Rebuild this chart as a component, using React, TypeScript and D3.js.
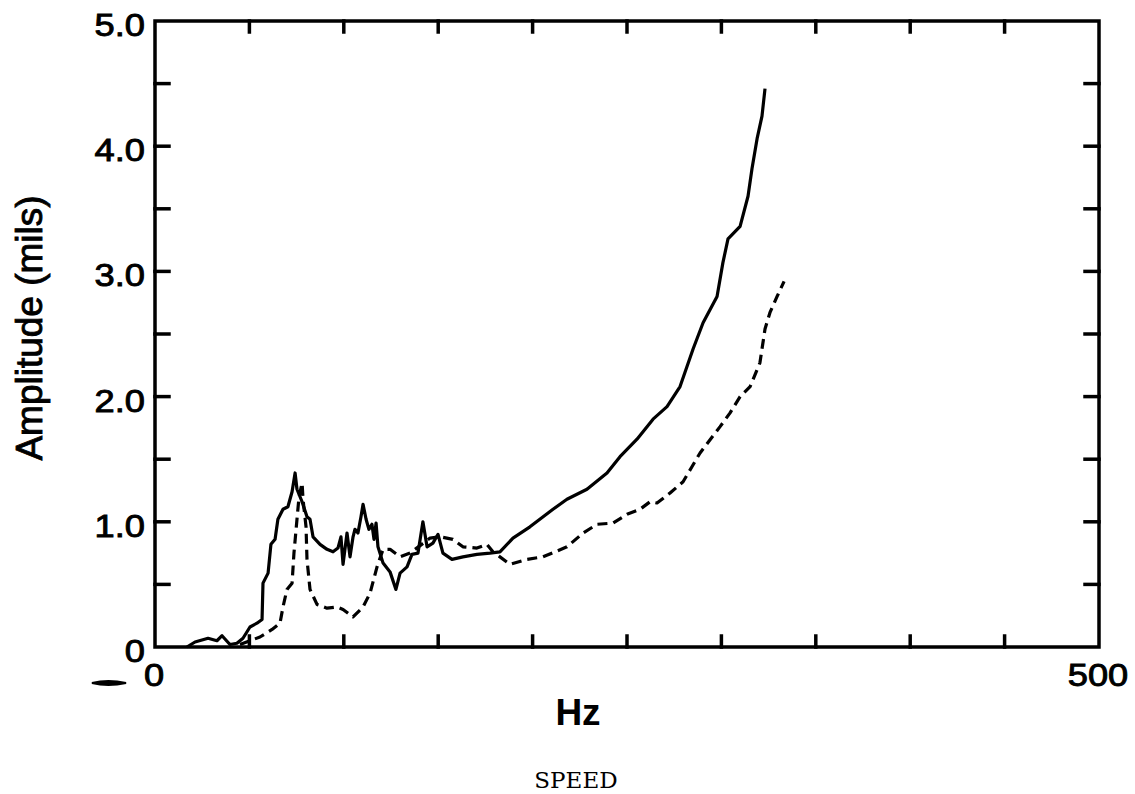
import React from "react";
import * as d3 from "d3";

const solidHz = [16.9,21.2,28.1,32.8,35.5,39.7,43.4,46.6,50.3,54.0,56.7,57.2,59.9,61.4,63.6,65.1,67.8,70.4,72.6,74.2,75.2,77.9,80.5,82.1,83.7,87.4,91.1,94.3,96.9,98.5,99.6,101.7,103.3,104.9,105.9,107.5,109.1,110.2,111.8,113.3,114.9,116.0,117.1,118.1,120.8,124.5,127.6,129.8,133.5,136.1,139.3,141.9,144.1,147.2,149.9,152.5,157.3,163.1,170.5,177.4,182.7,189.6,198.6,210.8,218.2,228.8,239.4,246.3,255.3,263.8,271.2,278.1,285.0,290.3,297.7,300.8,303.5,309.9,314.1,316.2,318.9,321.5,323.1];
const solidAmp = [0,0.04,0.07,0.05,0.09,0.02,0.03,0.07,0.16,0.19,0.22,0.51,0.59,0.82,0.86,1.02,1.10,1.12,1.24,1.39,1.26,1.16,1.04,1.02,0.88,0.82,0.78,0.76,0.79,0.88,0.66,0.91,0.72,0.88,0.94,0.91,1.04,1.14,1.02,0.94,0.98,0.86,0.99,0.80,0.67,0.60,0.46,0.59,0.64,0.74,0.75,1.00,0.80,0.83,0.90,0.75,0.70,0.72,0.74,0.75,0.76,0.87,0.96,1.10,1.18,1.26,1.39,1.52,1.66,1.82,1.92,2.08,2.38,2.59,2.80,3.07,3.26,3.36,3.60,3.82,4.06,4.24,4.46];

const dashHz = [45.0,55.6,62.0,66.2,67.8,69.9,72.6,73.6,75.2,76.3,77.9,78.4,80.0,80.5,82.1,85.8,91.1,96.4,99.6,104.9,110.2,113.9,117.6,120.8,124.5,129.8,135.1,145.7,151.0,157.8,163.1,170.5,175.8,179.0,182.7,188.0,197.0,205.5,218.2,226.7,234.1,242.6,250.0,256.9,262.2,265.9,272.8,279.7,284.4,288.7,299.3,304.6,309.9,315.2,320.4,323.1,325.7,329.5,333.2];
const dashAmp = [0.02,0.08,0.14,0.19,0.32,0.46,0.51,0.75,1.02,1.20,1.31,1.18,0.96,0.70,0.46,0.34,0.31,0.32,0.30,0.24,0.32,0.43,0.64,0.78,0.78,0.72,0.75,0.87,0.88,0.86,0.80,0.79,0.82,0.76,0.72,0.66,0.70,0.72,0.80,0.91,0.98,0.99,1.06,1.10,1.16,1.15,1.23,1.32,1.44,1.55,1.76,1.87,2.00,2.08,2.27,2.54,2.67,2.80,2.92];

const yTickLabels = ["0", "1.0", "2.0", "3.0", "4.0", "5.0"];
const yTickValues = [0, 1, 2, 3, 4, 5];
const yMinorTicks = [0.5, 1, 1.5, 2, 2.5, 3, 3.5, 4, 4.5];
const xTicks = [50, 100, 150, 200, 250, 300, 350, 400, 450];
const xTickLabels = ["0", "500"];
const xTickLabelValues = [0, 500];

export default function App() {
  const x = d3.scaleLinear().domain([0, 500]).range([155, 1099]);
  const y = d3.scaleLinear().domain([0, 5]).range([647, 21]);
  const line = d3.line<number>().curve(d3.curveLinear);
  const solidPath = line(solidHz.map((h, i) => [x(h), y(solidAmp[i])]) as any);
  const dashPath = line(dashHz.map((h, i) => [x(h), y(dashAmp[i])]) as any);
  const font = "Liberation Sans, Arial, sans-serif";
  const tl = 14;
  const sx = 1.17;
  return (
    <svg width={1135} height={794} style={{ position: "absolute", left: 0, top: 0, background: "#fff" }}>
      <g stroke="#000" strokeWidth={3.5} fill="none" strokeLinecap="square">
        <rect x={x(0)} y={y(5)} width={x(500) - x(0)} height={y(0) - y(5)} />
        {yMinorTicks.map((v) => (
          <g key={"yt" + v}>
            <line x1={x(0)} x2={x(0) + tl} y1={y(v)} y2={y(v)} />
            <line x1={x(500)} x2={x(500) - tl} y1={y(v)} y2={y(v)} />
          </g>
        ))}
        {xTicks.map((v) => (
          <g key={"xt" + v}>
            <line x1={x(v)} x2={x(v)} y1={y(0)} y2={y(0) - 11} />
            <line x1={x(v)} x2={x(v)} y1={y(5)} y2={y(5) + 11} />
          </g>
        ))}
      </g>
      <path d={solidPath || ""} fill="none" stroke="#000" strokeWidth={3.2} strokeLinejoin="round" />
      <path d={dashPath || ""} fill="none" stroke="#000" strokeWidth={3.2} strokeDasharray="10 6" strokeLinejoin="round" />
      <g fontFamily={font} fontSize={31} fill="#000" stroke="#000" strokeWidth={0.9}>
        {yTickValues.map((v, i) => (
          <text key={"yl" + v} transform={`translate(145,${y(v) + 15}) scale(${sx},1)`} textAnchor="end">{yTickLabels[i]}</text>
        ))}
        {xTickLabelValues.map((v, i) => (
          <text key={"xl" + v} transform={`translate(${v === 0 ? 154 : 1098},686) scale(${sx},1)`} textAnchor="middle">{xTickLabels[i]}</text>
        ))}
        <text transform="translate(42,328) rotate(-90)" textAnchor="middle" fontSize={37}>Amplitude (mils)</text>
      </g>
      <text x={578} y={725} textAnchor="middle" fontFamily={font} fontWeight="bold" fontSize={37} fill="#000">Hz</text>
      <path d="M92,683 Q108,679 126,683 Q108,687 92,683 Z" fill="#000" stroke="#000" strokeWidth={2} />
      <text x={576} y={788} textAnchor="middle" fontFamily="DejaVu Serif, serif" fontSize={23} fill="#000">SPEED</text>
    </svg>
  );
}
